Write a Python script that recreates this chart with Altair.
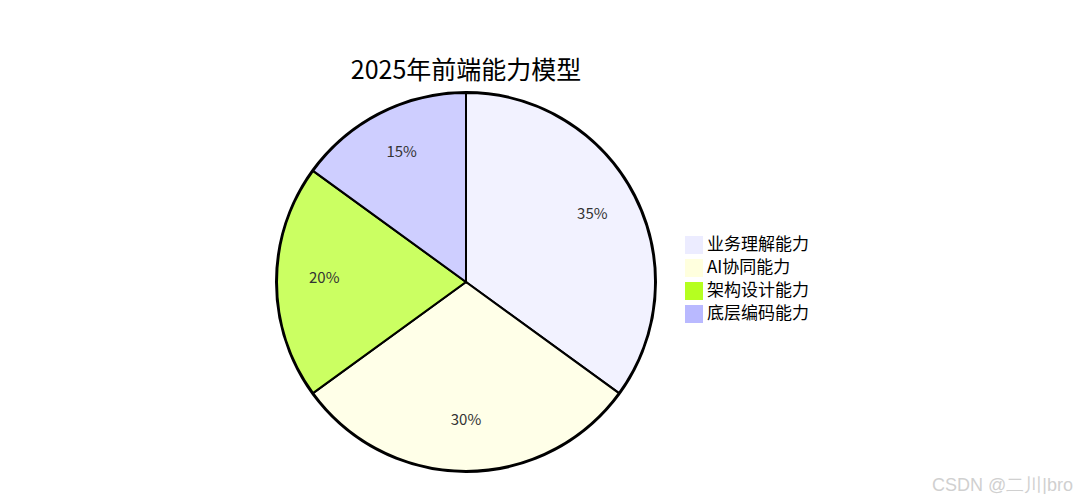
import altair as alt
import pandas as pd

categories = ["业务理解能力", "AI协同能力", "架构设计能力", "底层编码能力"]
values = [35, 30, 20, 15]
labels = ["35%", "30%", "20%", "15%"]
colors = ["#ECECFF", "#ffffde", "#b5ff20", "#b9b9ff"]

df = pd.DataFrame({"cat": categories, "val": values, "label": labels, "order": [0, 1, 2, 3]})

FONT = "Noto Sans CJK SC"
CX, CY, R = 458, 274, 189

color = alt.Color(
    "cat:N",
    scale=alt.Scale(domain=categories, range=colors),
    sort=categories,
    legend=alt.Legend(
        title=None,
        orient="none",
        legendX=677,
        legendY=228,
        symbolType="square",
        symbolSize=324,
        symbolStrokeWidth=0,
        symbolOpacity=1,
        labelFont=FONT,
        labelFontSize=17,
        labelColor="#000000",
        labelOffset=4,
        rowPadding=5,
        padding=0,
    ),
)

base = alt.Chart(df).encode(
    theta=alt.Theta("val:Q", stack=True),
    order=alt.Order("order:Q"),
)

pie = base.mark_arc(
    outerRadius=R, stroke="#000000", strokeWidth=2, fillOpacity=0.7
).encode(
    color=color,
    x=alt.value(CX),
    y=alt.value(CY),
)

outline = alt.Chart(pd.DataFrame({"a": [0]})).mark_arc(
    outerRadius=R + 1, fill=None, stroke="#000000", strokeWidth=2
).encode(x=alt.value(CX), y=alt.value(CY), theta=alt.value(6.2832))

text = base.mark_text(
    radius=R * 0.75, font=FONT, fontSize=15, color="#333333", dy=-4
).encode(text="label:N", x=alt.value(CX), y=alt.value(CY))

title = alt.Chart(pd.DataFrame({"t": ["2025年前端能力模型"]})).mark_text(
    font=FONT, fontSize=25, color="#000000"
).encode(text="t:N", x=alt.value(CX), y=alt.value(63))

watermark = alt.Chart(pd.DataFrame({"t": ["CSDN @二川|bro"]})).mark_text(
    font="Liberation Sans", fontSize=18, color="#d0d0d0", align="right"
).encode(text="t:N", x=alt.value(1065), y=alt.value(478))

chart = alt.layer(pie, outline, text, title, watermark).properties(
    width=1065, height=486, padding=0, background="#ffffff",
    autosize=alt.AutoSizeParams(type="none")
).configure_view(stroke=None, strokeWidth=0)

chart.save("out.html", embed_options={"renderer": "svg", "actions": False})
